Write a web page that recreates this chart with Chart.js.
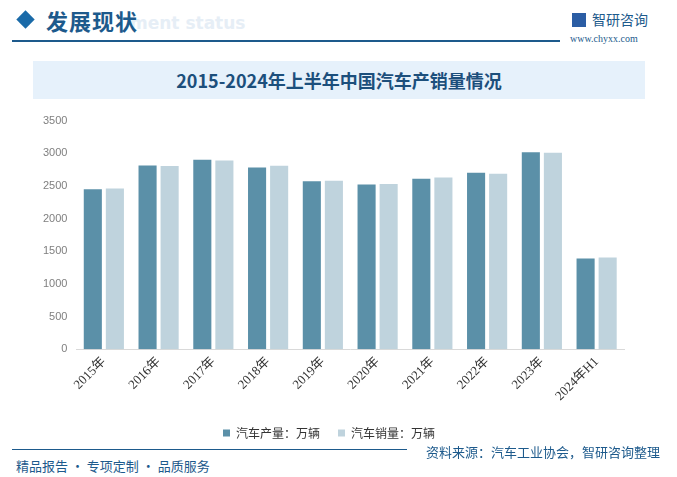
<!DOCTYPE html>
<html>
<head>
<meta charset="utf-8">
<script src="https://cdn.jsdelivr.net/npm/chart.js@4.4.0/dist/chart.umd.min.js"></script>
<style>
  html, body { margin: 0; padding: 0; background: #fff; }
  body { width: 677px; height: 477px; position: relative; overflow: hidden; font-family: "Noto Sans CJK SC", sans-serif; }
  .diamond { position: absolute; left: 19px; top: 13px; width: 13px; height: 13px; background: #1a6aa8; transform: rotate(45deg); }
  .head { position: absolute; left: 46px; top: 4px; font-size: 22px; font-weight: bold; color: #1d5a8c; letter-spacing: 1px; }
  .ghost { position: absolute; left: 130px; top: 13px; font-size: 17px; font-weight: bold; color: #e6eef6; font-family: "DejaVu Sans", sans-serif; }
  .hline { position: absolute; left: 12px; top: 40px; width: 548px; height: 2px; background: #1d5a8c; }
  .logo { position: absolute; left: 572px; top: 9px; font-size: 14px; color: #1d5a8c; }
  .logo b { display: inline-block; width: 14px; height: 14px; background: #2b5da4; vertical-align: -2px; margin-right: 6px; }
  .url { position: absolute; left: 570px; top: 33px; font-size: 10px; color: #1d5a8c; font-family: "Liberation Serif", serif; }
  .band { position: absolute; left: 33px; top: 61px; width: 612px; height: 38px; background: #e6f1fb; }
  .title { position: absolute; left: 33px; top: 61px; width: 612px; line-height: 38px; text-align: center; font-size: 18px; font-weight: bold; color: #1c4f7c; }
  #wrap { position: absolute; left: 20px; top: 105px; width: 640px; height: 344px; }
  .fline { position: absolute; left: 12px; top: 449px; width: 395px; height: 1px; background: #1d5a8c; }
  .src { position: absolute; right: 17px; top: 442px; font-size: 13px; color: #1d5a8c; }
  .slogan { position: absolute; left: 16px; top: 456px; font-size: 13px; color: #1d5a8c; }
</style>
</head>
<body>
<div class="ghost">ment status</div>
<div class="diamond"></div>
<div class="head">发展现状</div>
<div class="hline"></div>
<div class="logo"><b></b>智研咨询</div>
<div class="url">www.chyxx.com</div>
<div class="band"></div>
<div class="title">2015-2024年上半年中国汽车产销量情况</div>
<div id="wrap"><canvas id="chart"></canvas></div>
<div class="fline"></div>
<div class="src">资料来源：汽车工业协会，智研咨询整理</div>
<div class="slogan">精品报告 · 专项定制 · 品质服务</div>
<script>
const categories = ['2015年', '2016年', '2017年', '2018年', '2019年', '2020年', '2021年', '2022年', '2023年', '2024年H1'];
const production = [2450, 2812, 2902, 2781, 2572, 2523, 2608, 2702, 3016, 1389];
const sales = [2460, 2803, 2888, 2808, 2577, 2531, 2628, 2686, 3009, 1405];
const yTicks = [0, 500, 1000, 1500, 2000, 2500, 3000, 3500];

const ctx = document.getElementById('chart').getContext('2d');

new Chart(ctx, {
  type: 'bar',
  data: {
    labels: categories,
    datasets: [
      {
        label: '汽车产量：万辆',
        data: production,
        backgroundColor: '#5b90a8',
        barPercentage: 0.82,
        categoryPercentage: 0.806
      },
      {
        label: '汽车销量：万辆',
        data: sales,
        backgroundColor: '#bfd3dd',
        barPercentage: 0.82,
        categoryPercentage: 0.806
      }
    ]
  },
  options: {
    responsive: true,
    maintainAspectRatio: false,
    animation: false,
    layout: { padding: { left: 14, right: 36, top: 6, bottom: 0 } },
    scales: {
      x: {
        grid: { display: false, drawTicks: false },
        border: { color: '#d9d9d9', width: 1 },
        ticks: {
          color: '#333',
          font: { family: '"Liberation Serif", "Noto Sans CJK SC"', size: 13 },
          minRotation: 45,
          maxRotation: 45,
          padding: 5
        }
      },
      y: {
        min: 0,
        max: 3500,
        afterBuildTicks: axis => { axis.ticks = yTicks.map(v => ({ value: v })); },
        grid: { display: false, drawTicks: false },
        border: { display: false },
        ticks: {
          color: '#7f7f7f',
          font: { family: '"Liberation Sans", sans-serif', size: 11 },
          padding: 9,
          callback: v => String(v)
        }
      }
    },
    plugins: {
      legend: {
        position: 'bottom',
        labels: {
          boxWidth: 7,
          boxHeight: 7,
          padding: 18,
          color: '#333',
          font: { family: '"Noto Sans CJK SC"', size: 12 }
        }
      },
      tooltip: { enabled: false }
    }
  }
});
</script>
</body>
</html>
